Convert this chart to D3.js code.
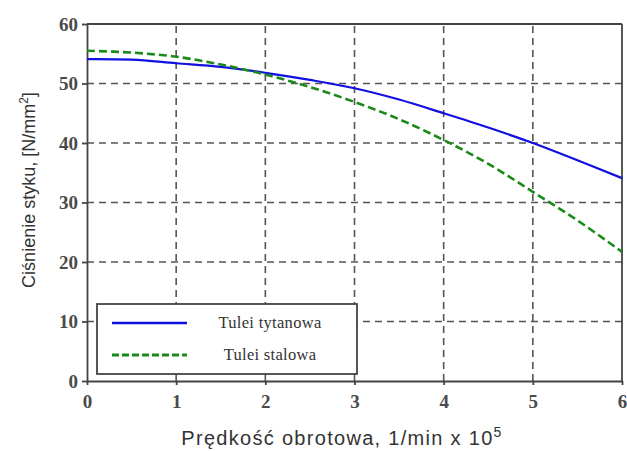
<!DOCTYPE html>
<html>
<head>
<meta charset="utf-8">
<script src="https://cdn.jsdelivr.net/npm/d3@7"></script>
<style>
  body { margin: 0; background: #fff; }
  svg { display: block; }
</style>
</head>
<body>
<div class="chart"></div>
<script>
// data
var xVals = [0, 0.5, 1, 1.5, 2, 2.5, 3, 3.5, 4, 4.5, 5, 5.5, 6];
var titan = [54.1, 54.0, 53.4, 52.8, 51.8, 50.6, 49.2, 47.3, 45.0, 42.6, 40.0, 37.1, 34.1];
var steel = [55.5, 55.2, 54.5, 53.2, 51.5, 49.4, 46.9, 44.0, 40.5, 36.5, 31.8, 27.0, 21.7];
var xTicks = [0, 1, 2, 3, 4, 5, 6];
var yTicks = [0, 10, 20, 30, 40, 50, 60];
var seriesNames = ["Tulei tytanowa", "Tulei stalowa"];

var width = 627, height = 451;
var margin = {left: 87, right: 5, top: 24, bottom: 70};

var svg = d3.select(".chart").append("svg")
    .attr("width", width)
    .attr("height", height);

var x = d3.scaleLinear().domain([0, 6]).range([margin.left, width - margin.right]);
var y = d3.scaleLinear().domain([0, 60]).range([height - margin.bottom, margin.top]);

// grid
svg.append("g").selectAll("line")
    .data(xTicks.slice(1, -1))
    .enter().append("line")
    .attr("x1", function(d) { return x(d); })
    .attr("x2", function(d) { return x(d); })
    .attr("y1", y(0)).attr("y2", y(60))
    .attr("stroke", "#555").attr("stroke-width", 1.6)
    .attr("stroke-dasharray", "7,5");

svg.append("g").selectAll("line")
    .data(yTicks.slice(1, -1))
    .enter().append("line")
    .attr("y1", function(d) { return y(d); })
    .attr("y2", function(d) { return y(d); })
    .attr("x1", x(0)).attr("x2", x(6))
    .attr("stroke", "#555").attr("stroke-width", 1.6)
    .attr("stroke-dasharray", "7,5");

// axes
var xAxis = svg.append("g")
    .attr("transform", "translate(0," + y(0) + ")")
    .call(d3.axisBottom(x).tickValues(xTicks).tickFormat(d3.format("d"))
        .tickSize(4).tickPadding(10).tickSizeOuter(0));
var yAxis = svg.append("g")
    .attr("transform", "translate(" + x(0) + ",0)")
    .call(d3.axisLeft(y).tickValues(yTicks).tickFormat(d3.format("d"))
        .tickSize(5).tickPadding(4).tickSizeOuter(0));

[xAxis, yAxis].forEach(function(a) {
    a.selectAll("path, line").attr("stroke", "#444").attr("stroke-width", 1.8);
    a.selectAll("text")
        .attr("fill", "#4a4a4a")
        .style("font-family", "'Liberation Serif', 'Times New Roman', serif")
        .style("font-size", "19px")
        .style("font-weight", "bold");
});

// frame top and right
svg.append("line")
    .attr("x1", x(0)).attr("x2", x(6)).attr("y1", y(60)).attr("y2", y(60))
    .attr("stroke", "#444").attr("stroke-width", 1.8);
svg.append("line")
    .attr("x1", x(6)).attr("x2", x(6)).attr("y1", y(0)).attr("y2", y(60))
    .attr("stroke", "#444").attr("stroke-width", 1.8);

// lines
var line = d3.line()
    .x(function(d, i) { return x(xVals[i]); })
    .y(function(d) { return y(d); })
    .curve(d3.curveCatmullRom);

svg.append("path")
    .attr("d", line(titan))
    .attr("fill", "none")
    .attr("stroke", "#1010e0")
    .attr("stroke-width", 2.2);

svg.append("path")
    .attr("d", line(steel))
    .attr("fill", "none")
    .attr("stroke", "#1a8a1a")
    .attr("stroke-width", 2.6)
    .attr("stroke-dasharray", "8,4");

// legend
var lg = svg.append("g");
lg.append("rect")
    .attr("x", 97).attr("y", 304).attr("width", 260).attr("height", 70)
    .attr("fill", "#fff").attr("stroke", "#444").attr("stroke-width", 1.8);

var legendItems = [
    {name: seriesNames[0], color: "#1010e0", dash: null, w: 2.6},
    {name: seriesNames[1], color: "#1a8a1a", dash: "7,3", w: 3}
];
legendItems.forEach(function(d, i) {
    var ly = 323 + i * 32;
    lg.append("line")
        .attr("x1", 112).attr("x2", 187).attr("y1", ly).attr("y2", ly)
        .attr("stroke", d.color).attr("stroke-width", d.w)
        .attr("stroke-dasharray", d.dash);
    lg.append("text")
        .attr("x", 270).attr("y", ly + 5)
        .attr("text-anchor", "middle")
        .attr("fill", "#333")
        .style("font-family", "'Liberation Serif', 'Times New Roman', serif")
        .style("font-size", "16.5px")
        .style("letter-spacing", "0.3px")
        .text(d.name);
});

// axis titles
var xt = svg.append("text")
    .attr("x", 342).attr("y", 445)
    .attr("text-anchor", "middle")
    .attr("fill", "#333")
    .style("font-family", "'Liberation Sans', Arial, sans-serif")
    .style("font-size", "20px")
    .style("letter-spacing", "1.3px");
xt.append("tspan").text("Prędkość obrotowa, 1/min x 10");
xt.append("tspan").attr("dy", -8).style("font-size", "14px").text("5");

var yt = svg.append("text")
    .attr("transform", "translate(35,190) rotate(-90)")
    .attr("text-anchor", "middle")
    .attr("fill", "#333")
    .style("font-family", "'Liberation Sans', Arial, sans-serif")
    .style("font-size", "18px");
yt.append("tspan").text("Ciśnienie styku, [N/mm");
yt.append("tspan").attr("dy", -7).style("font-size", "12px").text("2");
yt.append("tspan").attr("dy", 7).text("]");
</script>
</body>
</html>
